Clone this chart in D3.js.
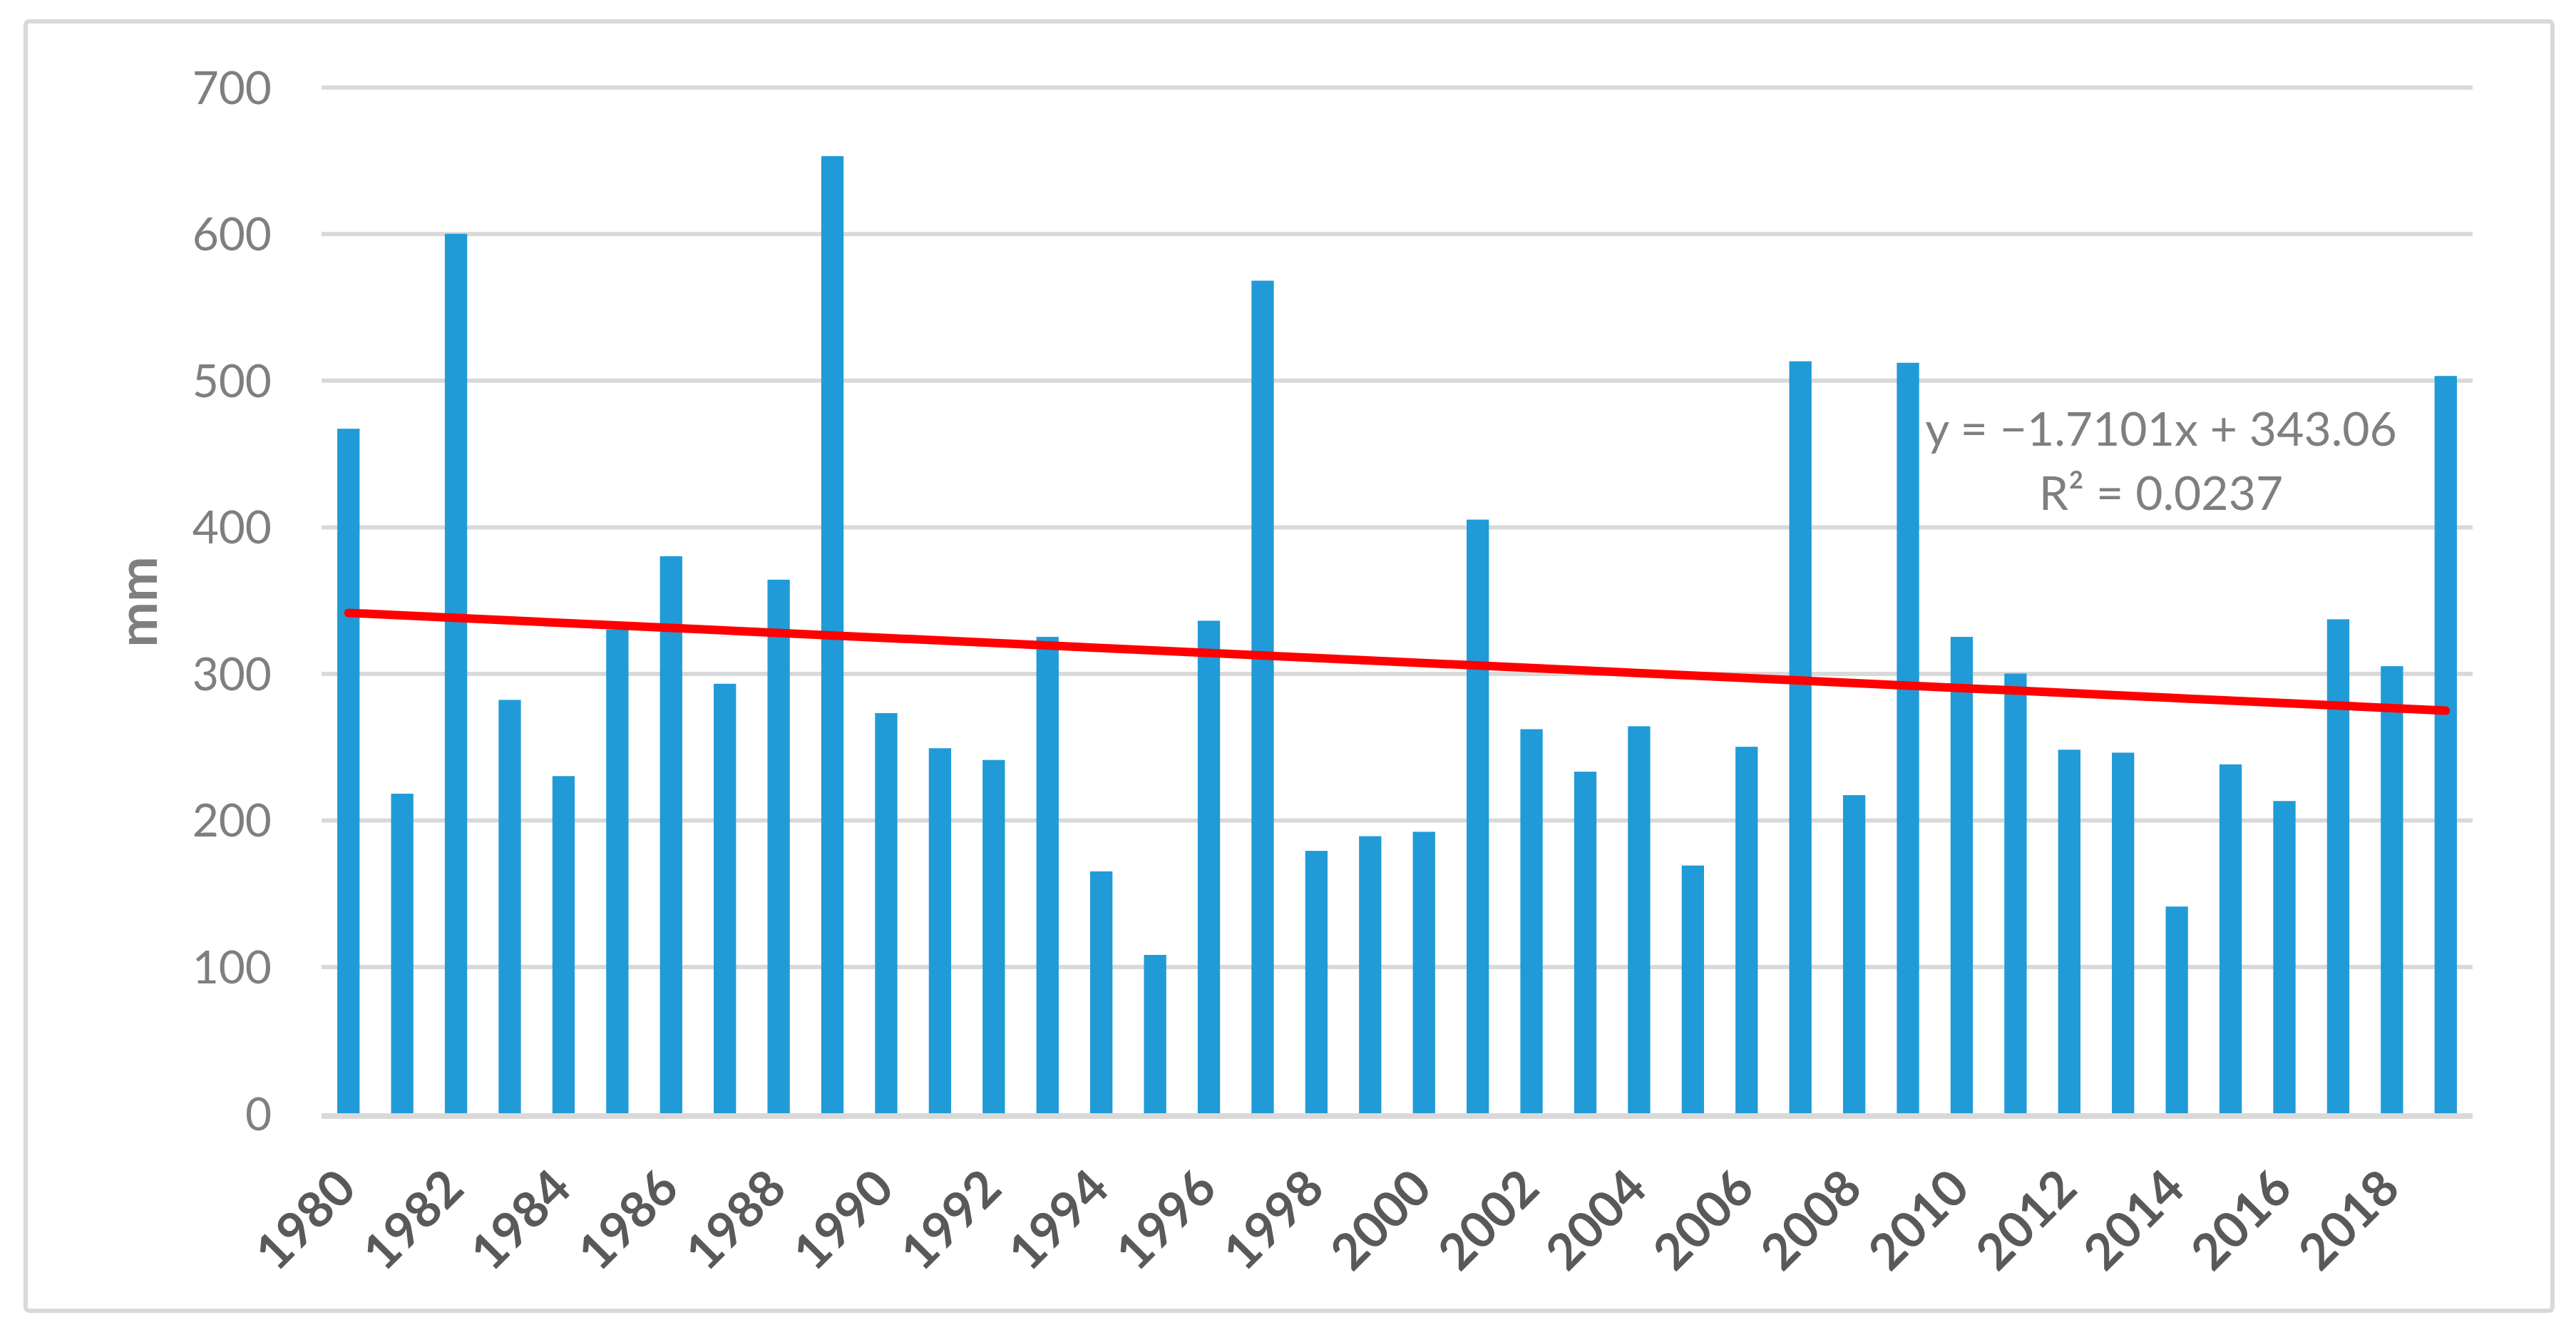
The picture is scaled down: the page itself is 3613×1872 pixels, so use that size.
<!DOCTYPE html>
<html>
<head>
<meta charset="utf-8">
<script src="https://cdn.jsdelivr.net/npm/d3@7/dist/d3.min.js"></script>
<style>
  html, body { margin: 0; padding: 0; background: #ffffff; }
  svg { display: block; }
</style>
</head>
<body>
<script>
// ---- data ----
const years = d3.range(1980, 2020);
const rainfall = [467, 218, 600, 282, 230, 330, 380, 293, 364, 653,
                  273, 249, 241, 325, 165, 108, 336, 568, 179, 189,
                  192, 405, 262, 233, 264, 169, 250, 513, 217, 512,
                  325, 300, 248, 246, 141, 238, 213, 337, 305, 503];
const yTicks = [0, 100, 200, 300, 400, 500, 600, 700];
const xLabelYears = d3.range(1980, 2020, 2);
const trendSlope = -1.7101;
const trendIntercept = 343.06;
const equationText = "y = \u22121.7101x + 343.06";
const r2Text = "R\u00B2 = 0.0237";
const yTitle = "mm";

// ---- layout ----
const W = 3613, H = 1872;
const plot = { left: 451, right: 3468, top: 122.3, bottom: 1561 };

const svg = d3.select("body").append("svg")
  .attr("width", W).attr("height", H)
  .style("font-family", "Lato, 'Open Sans', sans-serif");

svg.append("rect").attr("width", W).attr("height", H).attr("fill", "#ffffff");

// chart border
svg.append("rect")
  .attr("x", 36).attr("y", 30)
  .attr("width", 3580 - 36).attr("height", 1838 - 30)
  .attr("rx", 5)
  .attr("fill", "none").attr("stroke", "#d9d9d9").attr("stroke-width", 6);

const x = d3.scaleBand()
  .domain(years)
  .range([plot.left, plot.right])
  .paddingInner(0.585)
  .paddingOuter(0.2925);

const y = d3.scaleLinear().domain([0, 700]).range([plot.bottom, plot.top]);

// y axis with gridlines
const yAxis = d3.axisLeft(y)
  .tickValues(yTicks)
  .tickSize(-(plot.right - plot.left))
  .tickPadding(70);

const gy = svg.append("g")
  .attr("transform", `translate(${plot.left},0)`)
  .call(yAxis);
gy.select(".domain").remove();
gy.selectAll(".tick line")
  .attr("stroke", "#d9d9d9").attr("stroke-width", 6)
  .attr("opacity", d => d === 0 ? 0 : 1);
gy.selectAll(".tick text")
  .attr("fill", "#7f7f7f")
  .attr("font-size", 64)
  .attr("font-family", "Lato, 'Open Sans', sans-serif")
  .attr("dy", "0.36em");

// bars
svg.append("g").selectAll("rect")
  .data(years.map((yr, i) => ({ yr, v: rainfall[i] })))
  .join("rect")
  .attr("x", d => x(d.yr))
  .attr("width", x.bandwidth())
  .attr("y", d => y(d.v))
  .attr("height", d => y(0) - y(d.v))
  .attr("fill", "#209bd7");

// category axis line
svg.append("line")
  .attr("x1", plot.left).attr("x2", plot.right)
  .attr("y1", y(0) + 4).attr("y2", y(0) + 4)
  .attr("stroke", "#d9d9d9").attr("stroke-width", 8);

// x axis labels
const xAxis = d3.axisBottom(x).tickValues(xLabelYears).tickSize(0).tickPadding(0);
const gx = svg.append("g")
  .attr("transform", `translate(0,${y(0)})`)
  .call(xAxis);
gx.select(".domain").remove();
gx.selectAll(".tick text")
  .attr("fill", "#595959")
  .attr("font-size", 70)
  .attr("font-weight", "bold")
  .attr("font-family", "Lato, 'Open Sans', sans-serif")
  .attr("text-anchor", "end")
  .attr("transform", "translate(-3,92) rotate(-45)")
  .attr("y", 0)
  .attr("dy", "0.35em");

// trend line
const xi = i => x(years[i - 1]) + x.bandwidth() / 2;
const trendPts = [1, years.length].map(i => [xi(i), y(trendSlope * i + trendIntercept)]);
svg.append("path")
  .attr("d", d3.line()(trendPts))
  .attr("stroke", "#ff0000").attr("stroke-width", 12)
  .attr("stroke-linecap", "round").attr("fill", "none");

// equation
const eq = svg.append("text")
  .attr("text-anchor", "middle")
  .attr("fill", "#7f7f7f")
  .attr("font-size", 66)
  .attr("font-family", "Lato, 'Open Sans', sans-serif");
eq.append("tspan").attr("x", 3031).attr("y", 625).text(equationText);
eq.append("tspan").attr("x", 3031).attr("y", 715).text(r2Text);

// y title
svg.append("text")
  .attr("transform", "translate(220,844) rotate(-90)")
  .attr("text-anchor", "middle")
  .attr("fill", "#7f7f7f")
  .attr("font-size", 76)
  .attr("font-weight", "bold")
  .attr("font-family", "Lato, 'Open Sans', sans-serif")
  .text(yTitle);
</script>
</body>
</html>
